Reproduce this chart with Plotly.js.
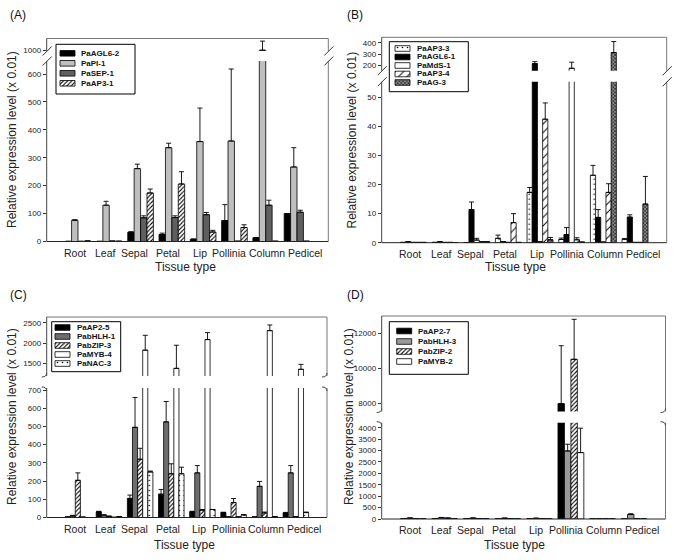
<!DOCTYPE html>
<html><head><meta charset="utf-8">
<script src="https://cdn.plot.ly/plotly-3.0.1.min.js"></script>
<style>html,body{margin:0;padding:0;background:#fff;}#chart{width:683px;height:560px;}</style>
</head><body><div id="chart"></div>
<script>
// ---------------- DATA ----------------
const categories = ['Root','Leaf','Sepal','Petal','Lip','Pollinia','Column','Pedicel'];

// Panel A
const namesA = ['PaAGL6-2','PaPI-1','PaSEP-1','PaAP3-1'];
const PaAGL6_2 = [0.5, 0.5, 33, 25, 8, 75, 13, 100];
const PaAGL6_2_err = [0, 0, 2, 5, 1, 57, 1, 0];
const PaPI_1 = [76, 130, 261, 336, 358, 360, 1002, 267];
const PaPI_1_err = [2, 14, 16, 16, 120, 258, 45, 69];
const PaSEP_1 = [0.5, 1.5, 85, 86, 96, 1, 130, 105];
const PaSEP_1_err = [0, 0, 7, 6, 8, 0, 18, 7];
const PaAP3_1 = [2, 1, 174, 206, 34, 50, 1, 1];
const PaAP3_1_err = [0, 0, 14, 44, 6, 10, 0, 0];
const ticksA_low = [0, 100, 200, 300, 400, 500, 600];
const ticksA_up = [1000];

// Panel B
const namesB = ['PaAP3-3','PaAGL6-1','PaMdS-1','PaAP3-4','PaAG-3'];
const PaAP3_3 = [0.1, 0.1, 0, 1.5, 17.3, 1.1, 23.2, 1.2];
const PaAP3_3_err = [0, 0, 0, 1.1, 1.7, 0.5, 3.4, 0.2];
const PaAGL6_1 = [0.3, 0.3, 11.4, 0.4, 218, 2.8, 8.7, 8.8];
const PaAGL6_1_err = [0, 0, 2.6, 0, 17, 2.4, 2.7, 0.8];
const PaMdS_1 = [0.1, 0.1, 0.9, 0.1, 0.3, 177, 0.2, 0.1];
const PaMdS_1_err = [0, 0, 0.6, 0, 0, 53, 0, 0];
const PaAP3_4 = [0.1, 0.1, 0.3, 6.9, 42.5, 1, 17.3, 0.1];
const PaAP3_4_err = [0, 0, 0, 3.1, 5.6, 0.7, 3.0, 0];
const PaAG_3 = [0.1, 0, 0.3, 0.1, 1, 0.2, 314, 13.3];
const PaAG_3_err = [0, 0, 0, 0, 0.8, 0, 96, 9.5];
const ticksB_low = [0, 10, 20, 30, 40, 50];
const ticksB_up = [200, 300, 400];

// Panel C
const namesC = ['PaAP2-5','PabHLH-1','PabZIP-3','PaMYB-4','PaNAC-3'];
const PaAP2_5 = [3, 31, 105, 128, 31, 27, 3, 25];
const PaAP2_5_err = [0, 3, 18, 26, 3, 2, 0, 3];
const PabHLH_1 = [9, 13, 495, 525, 245, 3, 171, 245];
const PabHLH_1_err = [3, 2, 164, 112, 40, 0, 27, 40];
const PabZIP_3 = [204, 7, 320, 240, 40, 82, 25, 5];
const PabZIP_3_err = [41, 0, 60, 55, 4, 22, 5, 0];
const PaMYB_4 = [2, 1, 1824, 1378, 2085, 3, 2305, 1354];
const PaMYB_4_err = [0, 0, 366, 568, 171, 0, 139, 122];
const PaNAC_3 = [0, 5, 250, 240, 44, 15, 5, 27];
const PaNAC_3_err = [0, 0, 5, 36, 0, 0, 0, 3];
const ticksC_low = [0, 100, 200, 300, 400, 500, 600, 700];
const ticksC_up = [1500, 2000, 2500];

// Panel D
const namesD = ['PaAP2-7','PabHLH-3','PabZIP-2','PaMYB-2'];
const PaAP2_7 = [8, 10, 8, 5, 5, 7980, 3, 3];
const PaAP2_7_err = [0, 0, 0, 0, 0, 3310, 0, 0];
const PabHLH_3 = [40, 60, 40, 35, 30, 2980, 5, 200];
const PabHLH_3_err = [5, 8, 5, 4, 5, 296, 0, 30];
const PabZIP_2 = [10, 40, 20, 15, 20, 10514, 5, 10];
const PabZIP_2_err = [0, 0, 0, 0, 0, 2286, 0, 0];
const PaMYB_2 = [3, 5, 3, 3, 3, 2908, 3, 3];
const PaMYB_2_err = [0, 0, 0, 0, 0, 1070, 0, 0];
const ticksD_low = [0, 500, 1000, 1500, 2000, 2500, 3000, 3500, 4000];
const ticksD_up = [8000, 10000, 12000];

const panelLabels = ['(A)','(B)','(C)','(D)'];
const yTitle = 'Relative expression level (x 0.01)';
const xTitle = 'Tissue type';

// ---------------- STYLES ----------------
const FONT = 'Arial, "Liberation Sans", sans-serif';
const W = 683, H = 560;
const px = x => x / W, py = y => 1 - y / H;
// small horizontal nudges (px) of the category labels, as placed in the original figure
const labelShift = [-3, -3.5, -6, -3.5, -3.5, -5, 1.5, 8];

const S = {
  black: {color: '#000000'},
  white: {color: '#ffffff'},
  lgray: {color: '#bfbfbf'},
  dgray: {color: '#5f5f5f'},
  mgray: {color: '#6e6e6e'},
  ggray: {color: '#9a9a9a'},
  hatch: {color: '#ffffff', pattern: {shape: '/', fgcolor: '#000000', bgcolor: '#ffffff', size: 3, solidity: 0.35}},
  hatchSparse: {color: '#ffffff', pattern: {shape: '/', fgcolor: '#000000', bgcolor: '#ffffff', size: 6, solidity: 0.16}},
  dots: {color: '#ffffff', pattern: {shape: '.', fgcolor: '#000000', bgcolor: '#ffffff', size: 5, solidity: 0.08}},
  speck: {color: '#777777', pattern: {shape: 'x', fgcolor: '#222222', bgcolor: '#8c8c8c', size: 2.5, solidity: 0.45}}
};

const panels = [
  {xa: 'x', yl: 'y', yu: 'y2', L: 46.7, R: 328.3, T: 38.5, ub: 51, lt: 61, B: 241.5,
   lo: [0, 646.6], up: [998, 1060], loT: ticksA_low, upT: ticksA_up, brk: 'slash',
   series: [[PaAGL6_2, PaAGL6_2_err, S.black], [PaPI_1, PaPI_1_err, S.lgray], [PaSEP_1, PaSEP_1_err, S.dgray], [PaAP3_1, PaAP3_1_err, S.hatch]],
   names: namesA, leg: {x0: 56, x1: 135, y0: 44.3, y1: 94, sx: 60, tx: 79, ys: [53.3, 63.3, 73.3, 83.3]},
   lab: [8, 15], yt: [12, 140], xt: [185, 267]},
  {xa: 'x2', yl: 'y3', yu: 'y4', L: 381.7, R: 666.7, T: 37.3, ub: 70.7, lt: 81.7, B: 242.7,
   lo: [0, 55.4], up: [156, 447], loT: ticksB_low, upT: ticksB_up, brk: 'slash',
   series: [[PaAP3_3, PaAP3_3_err, S.dots], [PaAGL6_1, PaAGL6_1_err, S.black], [PaMdS_1, PaMdS_1_err, S.white], [PaAP3_4, PaAP3_4_err, S.hatchSparse], [PaAG_3, PaAG_3_err, S.speck]],
   names: namesB, leg: {x0: 389.3, x1: 468.3, y0: 41.7, y1: 91.7, sx: 395, tx: 415, ys: [48.5, 57, 65.5, 74, 82.5]},
   lab: [345, 15], yt: [351.5, 140], xt: [515, 267]},
  {xa: 'x3', yl: 'y5', yu: 'y6', L: 46.7, R: 327, T: 317, ub: 376, lt: 388, B: 517.5,
   lo: [0, 711], up: [1190, 2640], loT: ticksC_low, upT: ticksC_up, brk: 'hook',
   series: [[PaAP2_5, PaAP2_5_err, S.black], [PabHLH_1, PabHLH_1_err, S.mgray], [PabZIP_3, PabZIP_3_err, S.hatch], [PaMYB_4, PaMYB_4_err, S.white], [PaNAC_3, PaNAC_3_err, S.dots]],
   names: namesC, leg: {x0: 51.7, x1: 120.7, y0: 321.7, y1: 371.7, sx: 55, tx: 75, ys: [327.5, 336.5, 345.5, 354.5, 363.5]},
   lab: [8, 295], yt: [12, 417], xt: [184, 545]},
  {xa: 'x4', yl: 'y7', yu: 'y8', L: 381.7, R: 665.5, T: 316, ub: 411.5, lt: 422.7, B: 519,
   lo: [0, 4219], up: [7530, 12990], loT: ticksD_low, upT: ticksD_up, brk: 'hook',
   series: [[PaAP2_7, PaAP2_7_err, S.black], [PabHLH_3, PabHLH_3_err, S.ggray], [PabZIP_2, PabZIP_2_err, S.hatch], [PaMYB_2, PaMYB_2_err, S.white]],
   names: namesD, leg: {x0: 389.3, x1: 468.3, y0: 321.7, y1: 374.3, sx: 396.7, tx: 416, ys: [331, 341.5, 351.5, 361.5]},
   lab: [345, 295], yt: [349, 417], xt: [514.5, 545]}
];

const traces = [];
const shapes = [];
const annotations = [];
const layout = {
  width: W, height: H, margin: {l: 0, r: 0, t: 0, b: 0},
  paper_bgcolor: '#ffffff', plot_bgcolor: 'rgba(0,0,0,0)',
  showlegend: false, barmode: 'group', bargap: 0.18, bargroupgap: 0,
  font: {family: FONT, size: 10, color: '#222'}
};

const frameCol = '#444';
function line(x0, y0, x1, y1, col, w) {
  shapes.push({type: 'line', xref: 'paper', yref: 'paper', x0: px(x0), y0: py(y0), x1: px(x1), y1: py(y1),
    line: {color: col || frameCol, width: w || 1}});
}
function path(d) {
  shapes.push({type: 'path', xref: 'paper', yref: 'paper', path: d, line: {color: frameCol, width: 1}});
}
const P = (x, y) => px(x).toFixed(5) + ',' + py(y).toFixed(5);

panels.forEach((p, i) => {
  const xn = p.xa === 'x' ? 'xaxis' : 'xaxis' + p.xa.slice(1);
  const yln = p.yl === 'y' ? 'yaxis' : 'yaxis' + p.yl.slice(1);
  const yun = 'yaxis' + p.yu.slice(1);
  layout[xn] = {domain: [px(p.L), px(p.R)], anchor: p.yl, type: 'category', range: [-1, 8],
    categoryorder: 'array', categoryarray: categories,
    showline: false, showgrid: false, zeroline: false, ticks: '', fixedrange: true, showticklabels: false};
  const yCommon = {showline: false, showgrid: false, zeroline: false, ticks: 'outside', ticklen: 3,
    tickwidth: 1, tickcolor: '#333', tickfont: {size: 8, family: FONT, color: '#222'}, anchor: p.xa,
    fixedrange: true, tickformat: 'd'};
  layout[yln] = Object.assign({}, yCommon, {domain: [py(p.B), py(p.lt)], range: p.lo, tickvals: p.loT});
  layout[yun] = Object.assign({}, yCommon, {domain: [py(p.ub), py(p.T)], range: p.up, tickvals: p.upT});

  // category labels placed on the x axis scale
  categories.forEach((c, k) => {
    annotations.push({xref: p.xa, yref: 'paper', x: c, y: py(p.B + 3), xshift: labelShift[k],
      xanchor: 'center', yanchor: 'top', text: c, showarrow: false,
      font: {size: 10.5, family: FONT, color: '#222'}});
  });

  p.series.forEach((s, k) => {
    const [vals, errs, st] = s;
    [p.yl, p.yu].forEach(ya => {
      const marker = {color: st.color, line: {color: '#000', width: 0.8}};
      if (st.pattern) marker.pattern = Object.assign({fillmode: 'replace'}, st.pattern);
      traces.push({type: 'bar', x: categories, y: vals, name: p.names[k], xaxis: p.xa, yaxis: ya,
        marker: marker, hoverinfo: 'skip', showlegend: false,
        error_y: {type: 'data', array: errs, arrayminus: errs.map(() => 0), symmetric: false,
          color: '#000', thickness: 0.9, width: 2.5}});
    });
  });

  // frame
  line(p.L, p.T, p.R, p.T, '#777');
  line(p.L, p.B, p.R, p.B, '#222');
  [p.L, p.R].forEach((X, j) => {
    line(X, p.T, X, p.ub, j ? '#777' : frameCol);
    line(X, p.lt, X, p.B, j ? '#777' : frameCol);
    if (p.brk === 'slash') {
      line(X - 4, p.ub + 4.5, X + 5, p.ub - 4.5, '#333');
      line(X - 4, p.lt + 4.5, X + 5, p.lt - 4.5, '#333');
    } else {
      path('M' + P(X, p.ub - 3) + ' Q' + P(X, p.ub + 1) + ' ' + P(X - 5, p.ub + 1));
      path('M' + P(X - 5, p.lt - 1) + ' Q' + P(X, p.lt - 1) + ' ' + P(X, p.lt + 3));
    }
  });

  // legend box
  shapes.push({type: 'rect', xref: 'paper', yref: 'paper', x0: px(p.leg.x0), x1: px(p.leg.x1),
    y0: py(p.leg.y1), y1: py(p.leg.y0), line: {color: '#000', width: 1}, fillcolor: 'rgba(0,0,0,0)'});
  p.series.forEach((s, k) => {
    const st = s[2];
    const yc = p.leg.ys[k], x0 = p.leg.sx, x1 = p.leg.sx + 15;
    const tr = {type: 'scatter', mode: 'lines', x: [x0, x1, x1, x0, x0], y: [yc - 2.8, yc - 2.8, yc + 2.8, yc + 2.8, yc - 2.8],
      xaxis: 'x5', yaxis: 'y9', fill: 'toself', fillcolor: st.color, line: {color: '#000', width: 0.8},
      hoverinfo: 'skip', showlegend: false};
    if (st.pattern) tr.fillpattern = Object.assign({fillmode: 'replace'}, st.pattern);
    traces.push(tr);
    annotations.push({xref: 'paper', yref: 'paper', x: px(p.leg.tx), y: py(yc), xanchor: 'left', yanchor: 'middle',
      text: '<b>' + p.names[k] + '</b>', showarrow: false, font: {size: 8, family: FONT, color: '#111'}});
  });

  annotations.push({xref: 'paper', yref: 'paper', x: px(p.lab[0]), y: py(p.lab[1]), xanchor: 'left', yanchor: 'middle',
    text: panelLabels[i], showarrow: false, font: {size: 12, family: FONT, color: '#111'}});
  annotations.push({xref: 'paper', yref: 'paper', x: px(p.yt[0]), y: py(p.yt[1]), xanchor: 'center', yanchor: 'middle',
    text: yTitle, textangle: -90, showarrow: false, font: {size: 12, family: FONT, color: '#222'}});
  annotations.push({xref: 'paper', yref: 'paper', x: px(p.xt[0]), y: py(p.xt[1]), xanchor: 'center', yanchor: 'middle',
    text: xTitle, showarrow: false, font: {size: 12, family: FONT, color: '#222'}});
});

layout.xaxis5 = {domain: [0, 1], range: [0, W], visible: false, anchor: 'y9', fixedrange: true};
layout.yaxis9 = {domain: [0, 1], range: [H, 0], visible: false, anchor: 'x5', fixedrange: true};
layout.shapes = shapes;
layout.annotations = annotations;

Plotly.newPlot('chart', traces, layout, {staticPlot: true, displayModeBar: false});
</script>
</body></html>
